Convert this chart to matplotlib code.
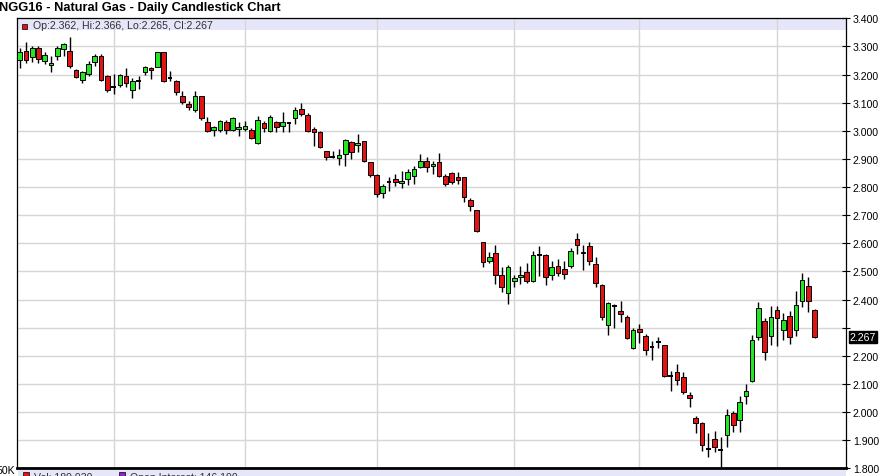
import matplotlib
matplotlib.use('Agg')
import matplotlib.pyplot as plt
from matplotlib.patches import Rectangle
from matplotlib.ticker import FuncFormatter
import matplotlib.transforms as mtransforms

title = 'NGG16 - Natural Gas - Daily Candlestick Chart'
last_info = 'Op:2.362, Hi:2.366, Lo:2.265, Cl:2.267'
last_close = 2.267
vol_label = 'Vol: 189,930'
oi_label = 'Open Interest: 146,190'
vol_tick = '50K'

## daily OHLC, oldest first
opens = [3.252, 3.285, 3.261, 3.296, 3.248, 3.234, 3.265, 3.291, 3.282, 3.217,
         3.179, 3.201, 3.246, 3.265, 3.196, 3.156, 3.163, 3.194, 3.145, 3.178,
         3.208, 3.222, 3.228, 3.279, 3.188, 3.178, 3.125, 3.094, 3.075, 3.122,
         3.030, 3.003, 3.004, 3.030, 3.004, 3.006, 3.006, 3.004, 2.957, 3.027,
         3.000, 3.032, 3.016, 3.026, 3.044, 3.078, 3.056, 3.006, 2.997, 2.929,
         2.908, 2.902, 2.918, 2.959, 2.950, 2.963, 2.888, 2.843, 2.779, 2.817,
         2.829, 2.813, 2.829, 2.838, 2.870, 2.894, 2.876, 2.890, 2.840, 2.849,
         2.834, 2.834, 2.755, 2.718, 2.606, 2.536, 2.564, 2.487, 2.423, 2.465,
         2.479, 2.497, 2.467, 2.560, 2.558, 2.488, 2.518, 2.509, 2.518, 2.615,
         2.564, 2.592, 2.526, 2.452, 2.311, 2.376, 2.359, 2.339, 2.227, 2.295,
         2.272, 2.230, 2.248, 2.238, 2.129, 2.144, 2.123, 2.062, 1.978, 1.961,
         1.869, 1.904, 1.866, 1.920, 1.997, 1.973, 2.056, 2.112, 2.266, 2.324,
         2.272, 2.364, 2.292, 2.343, 2.292, 2.396, 2.447, 2.362]
highs = [3.293, 3.314, 3.300, 3.300, 3.281, 3.267, 3.300, 3.312, 3.332, 3.220,
         3.214, 3.249, 3.273, 3.273, 3.198, 3.202, 3.202, 3.222, 3.186, 3.194,
         3.229, 3.226, 3.281, 3.281, 3.211, 3.182, 3.142, 3.107, 3.142, 3.125,
         3.048, 3.018, 3.040, 3.040, 3.048, 3.030, 3.036, 3.009, 3.051, 3.036,
         3.056, 3.036, 3.068, 3.032, 3.083, 3.099, 3.063, 3.012, 3.000, 2.929,
         2.929, 2.935, 2.971, 2.965, 2.989, 2.965, 2.890, 2.846, 2.811, 2.835,
         2.846, 2.858, 2.864, 2.876, 2.917, 2.906, 2.894, 2.921, 2.846, 2.852,
         2.855, 2.834, 2.760, 2.718, 2.606, 2.568, 2.594, 2.515, 2.523, 2.487,
         2.518, 2.530, 2.574, 2.589, 2.562, 2.538, 2.544, 2.538, 2.582, 2.637,
         2.594, 2.603, 2.550, 2.455, 2.392, 2.384, 2.396, 2.345, 2.298, 2.313,
         2.278, 2.254, 2.266, 2.238, 2.147, 2.171, 2.144, 2.070, 1.985, 1.966,
         1.926, 1.934, 1.910, 2.010, 2.005, 2.058, 2.100, 2.274, 2.390, 2.333,
         2.378, 2.378, 2.351, 2.361, 2.432, 2.494, 2.479, 2.366]
lows = [3.222, 3.241, 3.246, 3.241, 3.237, 3.208, 3.253, 3.265, 3.222, 3.187,
        3.169, 3.196, 3.229, 3.178, 3.137, 3.131, 3.157, 3.157, 3.115, 3.149,
        3.198, 3.184, 3.226, 3.174, 3.178, 3.127, 3.095, 3.075, 3.066, 3.040,
        2.995, 2.983, 2.997, 2.989, 3.000, 2.983, 3.000, 2.971, 2.953, 2.997,
        2.997, 2.995, 2.997, 2.995, 3.024, 3.054, 2.997, 2.947, 2.938, 2.897,
        2.902, 2.878, 2.876, 2.900, 2.923, 2.890, 2.835, 2.763, 2.760, 2.787,
        2.805, 2.795, 2.807, 2.811, 2.866, 2.855, 2.846, 2.837, 2.802, 2.811,
        2.811, 2.746, 2.714, 2.639, 2.517, 2.530, 2.455, 2.426, 2.384, 2.443,
        2.455, 2.459, 2.461, 2.483, 2.452, 2.471, 2.483, 2.473, 2.511, 2.562,
        2.506, 2.523, 2.443, 2.329, 2.274, 2.298, 2.321, 2.260, 2.224, 2.246,
        2.203, 2.186, 2.227, 2.126, 2.076, 2.097, 2.064, 2.019, 1.926, 1.863,
        1.839, 1.859, 1.800, 1.876, 1.930, 1.930, 2.029, 2.108, 2.257, 2.186,
        2.238, 2.236, 2.256, 2.242, 2.269, 2.375, 2.355, 2.265]
closes = [3.281, 3.252, 3.293, 3.255, 3.269, 3.241, 3.296, 3.309, 3.229, 3.190,
          3.208, 3.236, 3.265, 3.182, 3.146, 3.155, 3.198, 3.169, 3.178, 3.178,
          3.226, 3.217, 3.279, 3.178, 3.187, 3.137, 3.101, 3.086, 3.122, 3.044,
          3.000, 3.015, 3.034, 3.004, 3.044, 3.012, 3.016, 2.973, 3.040, 3.009,
          3.048, 3.012, 3.030, 3.027, 3.075, 3.060, 3.000, 2.995, 2.941, 2.908,
          2.907, 2.914, 2.967, 2.923, 2.957, 2.891, 2.843, 2.775, 2.805, 2.817,
          2.817, 2.821, 2.855, 2.864, 2.894, 2.870, 2.882, 2.840, 2.811, 2.819,
          2.825, 2.763, 2.731, 2.645, 2.532, 2.550, 2.487, 2.443, 2.515, 2.475,
          2.487, 2.467, 2.560, 2.559, 2.479, 2.514, 2.494, 2.491, 2.571, 2.595,
          2.570, 2.538, 2.458, 2.337, 2.388, 2.376, 2.347, 2.263, 2.292, 2.283,
          2.221, 2.230, 2.248, 2.129, 2.129, 2.115, 2.073, 2.050, 1.961, 1.884,
          1.869, 1.875, 1.866, 1.990, 1.955, 2.035, 2.076, 2.256, 2.369, 2.212,
          2.337, 2.333, 2.327, 2.266, 2.382, 2.471, 2.396, 2.267]

## bar index where each new month starts
month_starts = [15, 36, 57, 79, 99, 121]
price_ticks = [1.8, 1.9, 2.0, 2.1, 2.2, 2.3, 2.4, 2.5, 2.6, 2.7, 2.8, 2.9,
               3.0, 3.1, 3.2, 3.3, 3.4]

UP = '#22e622'
DOWN = '#e01414'
BAND = '#e6e6fa'


def main():
    W, H = 882, 477
    fig = plt.figure(figsize=(W / 100, H / 100), dpi=100)
    plt.rcParams['font.family'] = ['Liberation Sans', 'DejaVu Sans']

    ## main price panel (pixel box 17..846 x 19.3..469.3)
    ax = fig.add_axes([17 / W, (H - 469.3) / H, 829 / W, 450 / H])
    ax.set_xlim(-0.43, 132.0)
    ax.set_ylim(1.8, 3.4)

    ax.axhspan(3.358, 3.4, color=BAND, zorder=0.5, lw=0)

    ax.set_yticks(price_ticks)
    ax.set_xticks(month_starts)
    ax.grid(True, color='#d6d6d6', lw=1.0, zorder=0.6)
    ax.tick_params(axis='x', length=0, labelbottom=False)
    ax.yaxis.tick_right()
    ax.tick_params(axis='y', direction='inout', length=6, width=0.8,
                   pad=2, labelsize=7.6, colors='black')
    ax.yaxis.set_major_formatter(FuncFormatter(
        lambda v, p: '' if abs(v - 2.3) < 1e-6 else '%.3f' % v))

    for s in ['top', 'right', 'left']:
        ax.spines[s].set_linewidth(0.9)
    ax.spines['bottom'].set_linewidth(2.0)

    ## candles
    bw = 0.74
    for i in range(len(opens)):
        o, h, l, c = opens[i], highs[i], lows[i], closes[i]
        ax.vlines(i, l, h, color='black', lw=1.0, zorder=2)
        if abs(c - o) < 0.002:
            ax.hlines(o, i - bw / 2, i + bw / 2, color='black', lw=1.4, zorder=3)
        else:
            col = UP if c > o else DOWN
            ax.add_patch(Rectangle((i - bw / 2, min(o, c)), bw, abs(c - o),
                                   facecolor=col, edgecolor='black', lw=0.7,
                                   zorder=3))

    ## header legend inside the band
    ax.plot([6.5 / 829], [(469.3 - 26.5) / 450], marker='s', ms=3.6,
            mfc=DOWN, mec='black', mew=0.5, transform=ax.transAxes,
            clip_on=False, zorder=5)
    ax.text(16 / 829, (469.3 - 25.8) / 450, last_info, transform=ax.transAxes,
            fontsize=7.6, color='#303030', va='center', ha='left', zorder=5)

    ## last price box on the right axis
    tr = mtransforms.blended_transform_factory(ax.transAxes, ax.transData)
    ax.text(1.0 + 4 / 829, last_close, '%.3f' % last_close, transform=tr,
            fontsize=7.6, color='white', va='center', ha='left',
            bbox=dict(facecolor='black', edgecolor='black', pad=0.6))

    ## title
    fig.text(-1 / W, 1 - 8 / H, title, fontsize=9.3, fontweight='bold',
             va='center', ha='left')

    ## volume panel, cut off at the bottom
    fig.patches.append(Rectangle((17.5 / W, 0), 828.5 / W, (H - 470.5) / H,
                                 transform=fig.transFigure, facecolor=BAND,
                                 edgecolor='none', zorder=0))
    fig.text(15 / W, (H - 471.5) / H, vol_tick, fontsize=7.6, ha='right',
             va='center')
    fig.patches.append(Rectangle((23 / W, (H - 479) / H), 6 / W, 6 / H,
                                 transform=fig.transFigure, facecolor=DOWN,
                                 edgecolor='black', lw=0.5))
    fig.text(34 / W, (H - 473) / H, vol_label, fontsize=7.6, color='#303030',
             ha='left', va='top')
    fig.patches.append(Rectangle((119 / W, (H - 479) / H), 6 / W, 6 / H,
                                 transform=fig.transFigure, facecolor='#8a22d0',
                                 edgecolor='black', lw=0.5))
    fig.text(130 / W, (H - 473) / H, oi_label, fontsize=7.6, color='#303030',
             ha='left', va='top')

    fig.savefig('out.png', dpi=100)


if __name__ == '__main__':

    main()
